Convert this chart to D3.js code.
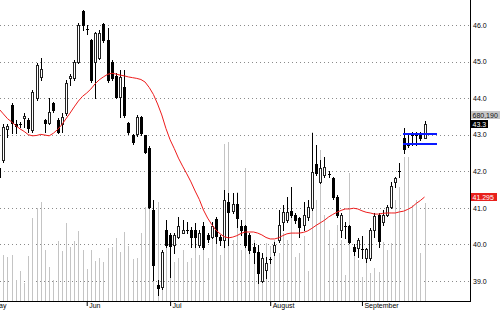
<!DOCTYPE html>
<html><head><meta charset="utf-8">
<script src="https://cdn.jsdelivr.net/npm/d3@7/dist/d3.min.js"></script>
<style>body{margin:0;background:#fff;overflow:hidden}svg{display:block}</style>
</head><body>
<svg id="c" width="500" height="312"></svg>
<script>
// ---- data (trading-day index -1 .. 101) ----
const firstDay = -1;
const opens = [42.09,
 42.31,43.15,43.81,43.30,43.28,43.45,43.40,43.13,44.00,44.58,
 43.40,43.32,43.87,43.40,43.29,43.59,44.55,44.55,44.99,46.38,
 45.85,45.59,44.99,45.10,46.03,45.59,44.99,44.61,44.03,44.31,
 43.32,42.99,43.02,43.48,42.99,42.64,40.94,38.89,38.84,40.39,
 40.26,39.98,40.20,40.31,40.40,40.39,40.39,39.98,40.50,40.26,
 40.20,40.70,40.20,40.12,41.16,40.91,41.11,40.50,40.50,40.26,
 39.93,39.79,39.00,39.30,39.57,39.79,40.12,40.61,40.67,40.91,
 40.80,40.72,40.53,40.75,41.00,42.20,41.71,41.90,41.90,41.82,
 41.30,40.39,40.48,40.50,39.93,39.90,39.88,39.63,39.63,40.39,
 40.80,40.61,40.80,41.02,41.71,41.98,42.91,42.77,42.99,43.00,
 42.99,42.91];
const highs = [42.15,
 43.29,43.30,43.87,43.40,43.35,43.59,43.46,44.22,44.96,45.10,
 43.42,44.00,43.90,43.46,43.59,44.50,44.65,45.04,46.05,46.41,
 46.00,45.62,45.82,45.86,46.05,45.92,45.04,44.69,44.77,44.77,
 43.35,43.02,43.54,43.50,43.00,42.68,41.21,39.03,39.85,40.67,
 40.31,40.31,40.75,40.67,40.61,40.48,40.59,40.39,40.61,40.31,
 40.61,40.75,40.26,41.49,41.41,41.41,41.41,40.67,40.52,40.31,
 40.04,39.98,39.77,39.66,39.66,40.07,40.94,41.08,41.30,41.57,
 40.86,40.75,41.16,41.21,43.05,42.72,42.31,42.39,42.00,41.84,
 41.35,40.86,40.61,40.53,40.01,40.18,40.23,39.90,40.45,40.86,
 40.86,40.94,41.08,41.71,41.84,42.23,43.18,43.02,43.07,43.07,
 43.07,43.38];
const lows = [41.80,
 42.25,42.95,43.05,43.05,43.22,43.21,43.07,43.07,43.95,44.50,
 43.07,43.29,43.62,43.05,43.07,43.54,44.35,44.50,44.95,45.86,
 45.75,44.45,44.00,45.07,45.54,44.44,44.50,44.00,43.48,43.48,
 43.02,42.75,42.96,42.99,42.50,41.00,39.03,38.62,38.78,39.93,
 39.11,39.77,40.18,40.31,40.31,39.93,39.93,39.93,39.88,40.07,
 40.18,40.04,39.98,39.93,39.98,40.86,40.48,40.26,39.93,39.77,
 39.49,38.95,38.97,39.08,39.49,39.71,40.07,40.39,40.61,40.75,
 40.59,40.20,40.39,40.67,40.94,41.90,41.68,41.84,41.84,41.25,
 40.75,40.20,40.18,40.04,39.71,39.66,39.63,39.52,39.57,40.20,
 39.93,40.53,40.78,41.00,41.57,41.84,42.50,42.66,42.72,42.72,
 42.86,42.91];
const closes = [41.84,
 43.21,43.25,43.32,43.25,43.28,43.50,43.18,44.17,44.91,44.80,
 43.32,43.62,43.68,43.07,43.48,44.41,44.60,44.99,46.00,46.00,
 45.90,44.50,45.78,45.78,45.59,44.50,44.55,44.03,44.58,43.54,
 43.07,42.80,43.48,43.05,42.53,41.02,39.44,38.81,39.79,39.98,
 39.96,40.26,40.50,40.39,40.39,40.20,40.20,40.31,39.93,40.15,
 40.50,40.23,40.12,41.21,40.89,41.11,40.72,40.39,39.98,39.85,
 39.79,39.22,39.63,39.49,39.60,39.98,40.53,40.89,40.89,40.80,
 40.67,40.48,40.80,41.02,41.98,41.95,42.09,42.12,41.92,41.30,
 40.80,40.80,40.50,40.07,39.82,40.12,39.87,39.88,40.39,40.78,
 40.09,40.80,41.02,41.60,41.82,42.00,42.61,42.73,43.00,42.98,
 42.91,43.29];
const volumes = [300000,
 319000,305000,319000,146000,208000,125000,312000,575000,644000,686000,
 353000,236000,146000,416000,347000,541000,374000,416000,485000,353000,
 222000,353000,277000,298000,270000,367000,374000,437000,340000,478000,
 381000,291000,298000,471000,651000,651000,617000,686000,353000,388000,
 249000,270000,298000,353000,270000,298000,478000,319000,423000,298000,
 457000,457000,319000,1088000,1102000,423000,755000,353000,922000,457000,
 423000,367000,333000,402000,381000,423000,333000,471000,423000,700000,
 305000,333000,450000,208000,1171000,700000,1046000,596000,492000,367000,
 527000,423000,180000,887000,353000,284000,166000,270000,194000,229000,
 201000,409000,353000,402000,700000,790000,998000,998000,665000,700000,
 333000,680190];
const ma20 = [43.70,
 43.57,43.44,43.35,43.25,43.16,43.09,43.00,42.97,42.98,43.01,
 42.99,42.97,43.04,43.14,43.27,43.43,43.59,43.76,43.92,44.05,
 44.14,44.25,44.39,44.50,44.58,44.65,44.68,44.66,44.63,44.61,
 44.58,44.56,44.54,44.51,44.44,44.29,44.10,43.84,43.54,43.17,
 42.86,42.62,42.36,42.14,41.93,41.71,41.46,41.23,40.94,40.72,
 40.54,40.39,40.29,40.21,40.18,40.20,40.24,40.30,40.34,40.34,
 40.34,40.31,40.26,40.19,40.15,40.15,40.18,40.24,40.29,40.31,
 40.31,40.31,40.33,40.37,40.44,40.52,40.59,40.66,40.75,40.82,
 40.88,40.93,40.97,40.97,40.99,40.97,40.92,40.88,40.86,40.83,
 40.83,40.85,40.86,40.86,40.86,40.89,40.91,40.96,41.02,41.12,
 41.20,41.295];
const monthLabels = ["May","Jun","Jul","August","September"];
const monthStarts = [-3, 20, 40, 64, 86];
const priceTicks = [39,40,41,42,43,44,45,46];
const rangeLevels = [43.01, 42.74];
const rangeFrom = 96, rangeTo = 104;

// ---- drawing ----
const svg = d3.select("#c");
const FONT = "'Liberation Sans', Arial, sans-serif";
const axisX = 470, baseY = 301;
const x = d3.scaleLinear().domain([0, 101]).range([3.3, 424.5]);
const y = d3.scaleLinear().domain([39, 46]).range([281, 25]);
const yv = d3.scaleLinear().domain([0, 1400000]).range([301, 99]);

const days = opens.map((o, k) => ({
  i: firstDay + k, o, h: highs[k], l: lows[k], c: closes[k], v: volumes[k], ma: ma20[k]
}));

svg.append("rect").attr("width", 500).attr("height", 312).attr("fill", "#fff");

// grid
svg.append("g").selectAll("line").data(priceTicks).join("line")
  .attr("x1", 0).attr("x2", axisX - 1)
  .attr("y1", d => Math.round(y(d)) + 0.5).attr("y2", d => Math.round(y(d)) + 0.5)
  .attr("stroke", "#8a8a8a").attr("stroke-dasharray", "1,3");

// volume
svg.append("g").selectAll("rect").data(days).join("rect")
  .attr("x", d => Math.round(x(d.i)))
  .attr("width", 1)
  .attr("y", d => Math.round(yv(d.v)))
  .attr("height", d => baseY - Math.round(yv(d.v)))
  .attr("fill", "#c4c4c4");

// candles
const cg = svg.append("g");
days.forEach(d => {
  const cx = Math.round(x(d.i));
  cg.append("line").attr("x1", cx + 0.5).attr("x2", cx + 0.5)
    .attr("y1", Math.round(y(d.h))).attr("y2", Math.round(y(d.l)) + 1)
    .attr("stroke", "#000").attr("stroke-width", 1);
  const top = Math.round(y(Math.max(d.o, d.c)));
  const bot = Math.round(y(Math.min(d.o, d.c)));
  const h = bot - top;
  if (h <= 1) {
    cg.append("rect").attr("x", cx - 1).attr("y", top).attr("width", 3).attr("height", 1).attr("fill", "#000");
  } else if (d.c >= d.o) {
    cg.append("rect").attr("x", cx - 0.5).attr("y", top + 0.5).attr("width", 2).attr("height", h)
      .attr("fill", "#fff").attr("stroke", "#222").attr("stroke-width", 1);
  } else {
    cg.append("rect").attr("x", cx - 1).attr("y", top).attr("width", 3).attr("height", h + 1)
      .attr("fill", "#000");
  }
});

// moving average
svg.append("path").datum(days)
  .attr("d", d3.line().x(d => x(d.i)).y(d => y(d.ma)))
  .attr("fill", "none").attr("stroke", "#ee1c1c").attr("stroke-width", 1);

// blue range lines
svg.append("g").selectAll("line").data(rangeLevels).join("line")
  .attr("x1", Math.round(x(rangeFrom)) - 1).attr("x2", Math.round(x(rangeTo)))
  .attr("y1", d => Math.round(y(d))).attr("y2", d => Math.round(y(d)))
  .attr("stroke", "#0a1aff").attr("stroke-width", 2);

// axes frame
svg.append("line").attr("x1", axisX + 0.5).attr("x2", axisX + 0.5).attr("y1", 0).attr("y2", baseY + 1)
  .attr("stroke", "#000");
svg.append("line").attr("x1", 0).attr("x2", axisX + 1).attr("y1", baseY + 0.5).attr("y2", baseY + 0.5)
  .attr("stroke", "#000");

// right axis
const ra = svg.append("g").attr("transform", `translate(${axisX},0)`)
  .call(d3.axisRight(y).tickValues(priceTicks).tickFormat(d3.format(".1f")).tickSize(0).tickPadding(3));
ra.select(".domain").remove();
ra.selectAll("text").attr("font-family", FONT).attr("font-size", 7).attr("fill", "#000");

// bottom axis
const ba = svg.append("g").attr("transform", `translate(0,${baseY})`)
  .call(d3.axisBottom(x).tickValues(monthStarts).tickFormat((d, k) => monthLabels[k]).tickSize(5));
ba.select(".domain").remove();
ba.selectAll("line").attr("stroke", "#000");
ba.selectAll("text").attr("font-family", FONT).attr("font-size", 7).attr("fill", "#000")
  .attr("text-anchor", "start").attr("x", 2).attr("y", 2).attr("dy", "0.71em");

// value labels
const last = days[days.length - 1];
function tag(val, cy, bg, fg, w) {
  svg.append("rect").attr("x", axisX + 1).attr("y", cy - 4).attr("width", w).attr("height", 8).attr("fill", bg);
  svg.append("text").attr("x", axisX + 2.5).attr("y", cy + 2.6).text(val)
    .attr("font-family", FONT).attr("font-size", 7).attr("fill", fg);
}
const cyClose = Math.round(y(last.c));
tag(d3.format(",")(last.v), cyClose - 9, "#c8c8c8", "#111", 29);
tag(d3.format(".1f")(last.c), cyClose, "#000", "#fff", 17);
tag(d3.format(".3f")(last.ma), Math.round(y(last.ma)), "#e8201c", "#fff", 26);
</script>
</body></html>
